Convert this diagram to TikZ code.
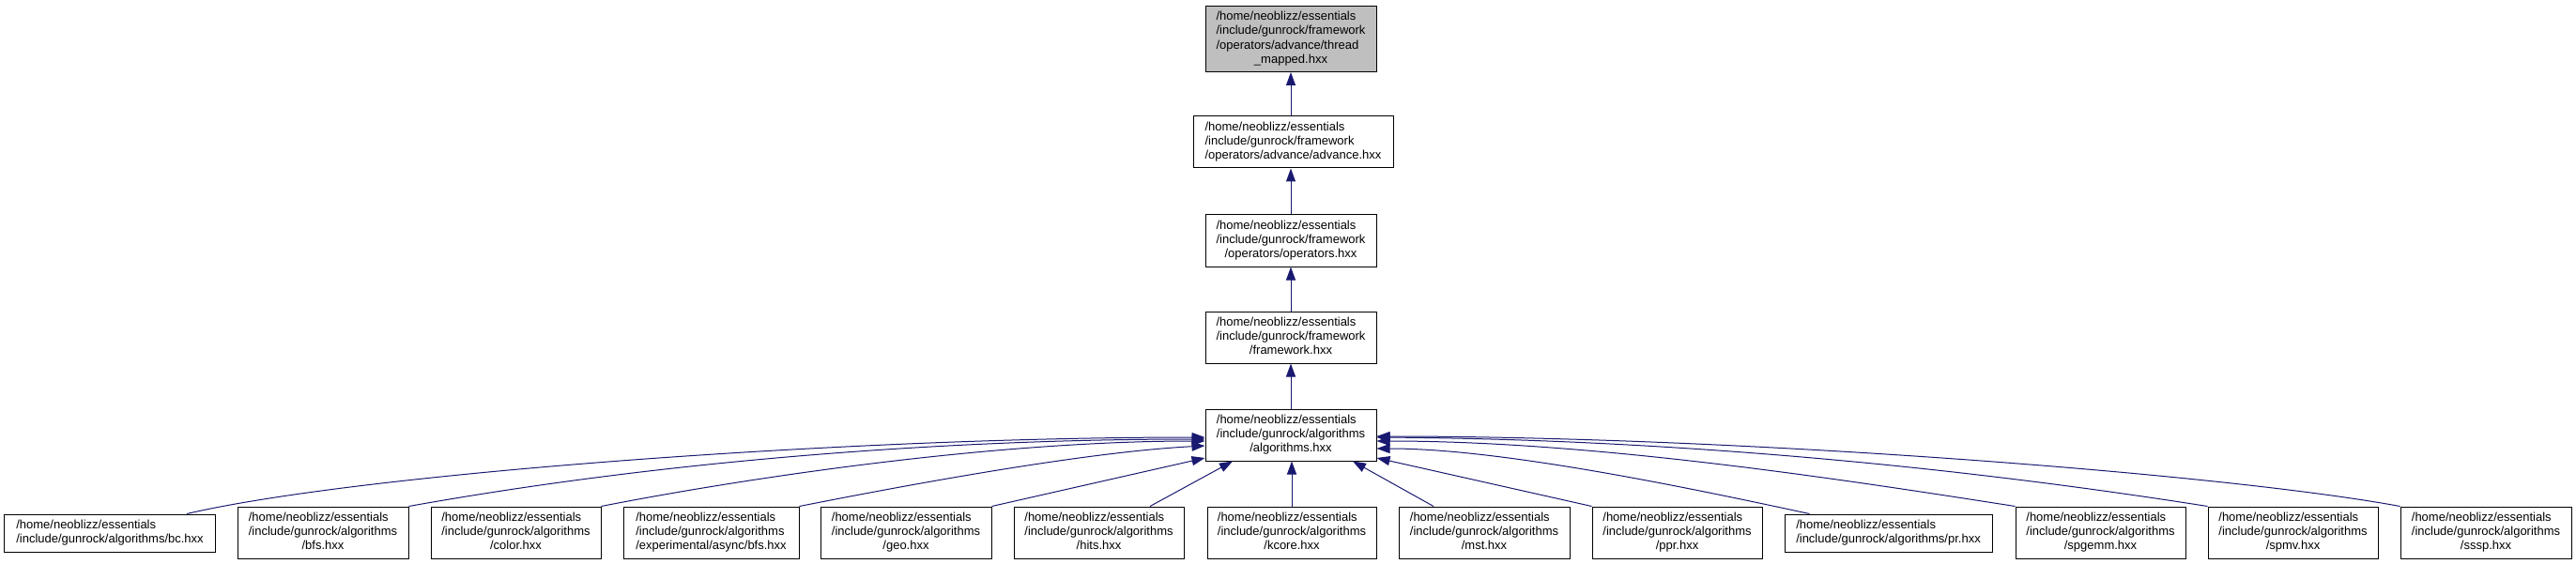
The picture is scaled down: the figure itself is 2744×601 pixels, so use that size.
\documentclass[tikz,border=0pt]{standalone}
\usepackage{fontspec}
\setmainfont{Liberation Sans}
\usetikzlibrary{arrows.meta,calc}
\definecolor{edgecol}{HTML}{191970}
\definecolor{topfill}{HTML}{BFBFBF}
\newcommand\fl[2]{\begin{tabular}{@{}l@{}}#1\\\multicolumn{1}{@{}c@{}}{#2}\end{tabular}}
\newcommand\leftlines[1]{\begin{tabular}{@{}l@{}}#1\end{tabular}}
\tikzset{
  box/.style={draw=black, line width=1bp, inner sep=0pt, minimum height=55bp, text=black,
    font=\fontsize{13bp}{15.3bp}\selectfont},
  edge/.style={draw=edgecol, line width=1bp, -{Triangle[length=14bp,width=10bp]}}
}
\begin{document}
\begin{tikzpicture}[x=1bp,y=-1bp]
\useasboundingbox (0,0) rectangle (2744,601);
\node[box, fill=topfill, minimum width=182bp, minimum height=70bp] (top) at (1375,41.5)
  {\fl{/home/neoblizz/essentials\\/include/gunrock/framework\\/operators/advance/thread}{\_mapped.hxx}};
\node[box, minimum width=213bp] (adv) at (1377.5,151.5)
  {\leftlines{/home/neoblizz/essentials\\/include/gunrock/framework\\/operators/advance/advance.hxx}};
\node[box, minimum width=182bp] (ops) at (1375,256.5)
  {\fl{/home/neoblizz/essentials\\/include/gunrock/framework}{/operators/operators.hxx}};
\node[box, minimum width=182bp] (fw) at (1375,359.5)
  {\fl{/home/neoblizz/essentials\\/include/gunrock/framework}{/framework.hxx}};
\node[box, minimum width=182bp] (alg) at (1375,463.5)
  {\fl{/home/neoblizz/essentials\\/include/gunrock/algorithms}{/algorithms.hxx}};

\node[box, minimum width=224bp, minimum height=40bp] (bc) at (117,568)
  {\leftlines{/home/neoblizz/essentials\\/include/gunrock/algorithms/bc.hxx}};
\node[box, minimum width=182bp] (bfs) at (344,567.5)
  {\fl{/home/neoblizz/essentials\\/include/gunrock/algorithms}{/bfs.hxx}};
\node[box, minimum width=181bp] (color) at (549.5,567.5)
  {\fl{/home/neoblizz/essentials\\/include/gunrock/algorithms}{/color.hxx}};
\node[box, minimum width=187bp] (async) at (757.5,567.5)
  {\fl{/home/neoblizz/essentials\\/include/gunrock/algorithms}{/experimental/async/bfs.hxx}};
\node[box, minimum width=182bp] (geo) at (965,567.5)
  {\fl{/home/neoblizz/essentials\\/include/gunrock/algorithms}{/geo.hxx}};
\node[box, minimum width=181bp] (hits) at (1170.5,567.5)
  {\fl{/home/neoblizz/essentials\\/include/gunrock/algorithms}{/hits.hxx}};
\node[box, minimum width=180bp] (kcore) at (1376,567.5)
  {\fl{/home/neoblizz/essentials\\/include/gunrock/algorithms}{/kcore.hxx}};
\node[box, minimum width=182bp] (mst) at (1581,567.5)
  {\fl{/home/neoblizz/essentials\\/include/gunrock/algorithms}{/mst.hxx}};
\node[box, minimum width=181bp] (ppr) at (1786.5,567.5)
  {\fl{/home/neoblizz/essentials\\/include/gunrock/algorithms}{/ppr.hxx}};
\node[box, minimum width=221bp, minimum height=40bp] (pr) at (2011.5,568)
  {\leftlines{/home/neoblizz/essentials\\/include/gunrock/algorithms/pr.hxx}};
\node[box, minimum width=181bp] (spgemm) at (2237.5,567.5)
  {\fl{/home/neoblizz/essentials\\/include/gunrock/algorithms}{/spgemm.hxx}};
\node[box, minimum width=181bp] (spmv) at (2442.5,567.5)
  {\fl{/home/neoblizz/essentials\\/include/gunrock/algorithms}{/spmv.hxx}};
\node[box, minimum width=182bp] (sssp) at (2648,567.5)
  {\fl{/home/neoblizz/essentials\\/include/gunrock/algorithms}{/sssp.hxx}};

% vertical chain
\draw[edge] (top.south |- adv.north) -- (top.south);
\draw[edge] (ops.north) -- (ops.north |- adv.south);
\draw[edge] (fw.north) -- (ops.south);
\draw[edge] (alg.north) -- (fw.south);

% left side
\draw[edge] ($(bc.north)+(82,0)$) .. controls (380,505) and (900,466) .. ($(alg.west)+(0,2.5)$);
\draw[edge] (bfs.north east) .. controls (700,492) and (1000,468) .. ($(alg.west)+(0,4.5)$);
\draw[edge] (color.north east) .. controls (780,512) and (1050,470) .. ($(alg.west)+(0,6.5)$);
\draw[edge] (async.north east) .. controls (950,520) and (1150,482) .. ($(alg.west)+(0,11.5)$);
\draw[edge] (geo.north east) -- ($(alg.west)+(0,24.5)$);
\draw[edge] ($(hits.north)+(54.5,0)$) -- ($(alg.south)+(-62,0)$);
\draw[edge] (kcore.north) -- (kcore.north |- alg.south);
\draw[edge] ($(mst.north)+(-54,0)$) -- ($(alg.south)+(66,0)$);
% right side
\draw[edge] (ppr.north west) -- ($(alg.east)+(0,24.5)$);
\draw[edge] ($(pr.north west)+(27,0)$) .. controls (1800,520) and (1600,478) .. ($(alg.east)+(0,14.5)$);
\draw[edge] (spgemm.north west) .. controls (1970,512) and (1700,470) .. ($(alg.east)+(0,6.5)$);
\draw[edge] (spmv.north west) .. controls (2050,492) and (1750,468) .. ($(alg.east)+(0,2.5)$);
\draw[edge] (sssp.north west) .. controls (2370,505) and (1850,465) .. ($(alg.east)+(0,1.5)$);
\end{tikzpicture}
\end{document}
